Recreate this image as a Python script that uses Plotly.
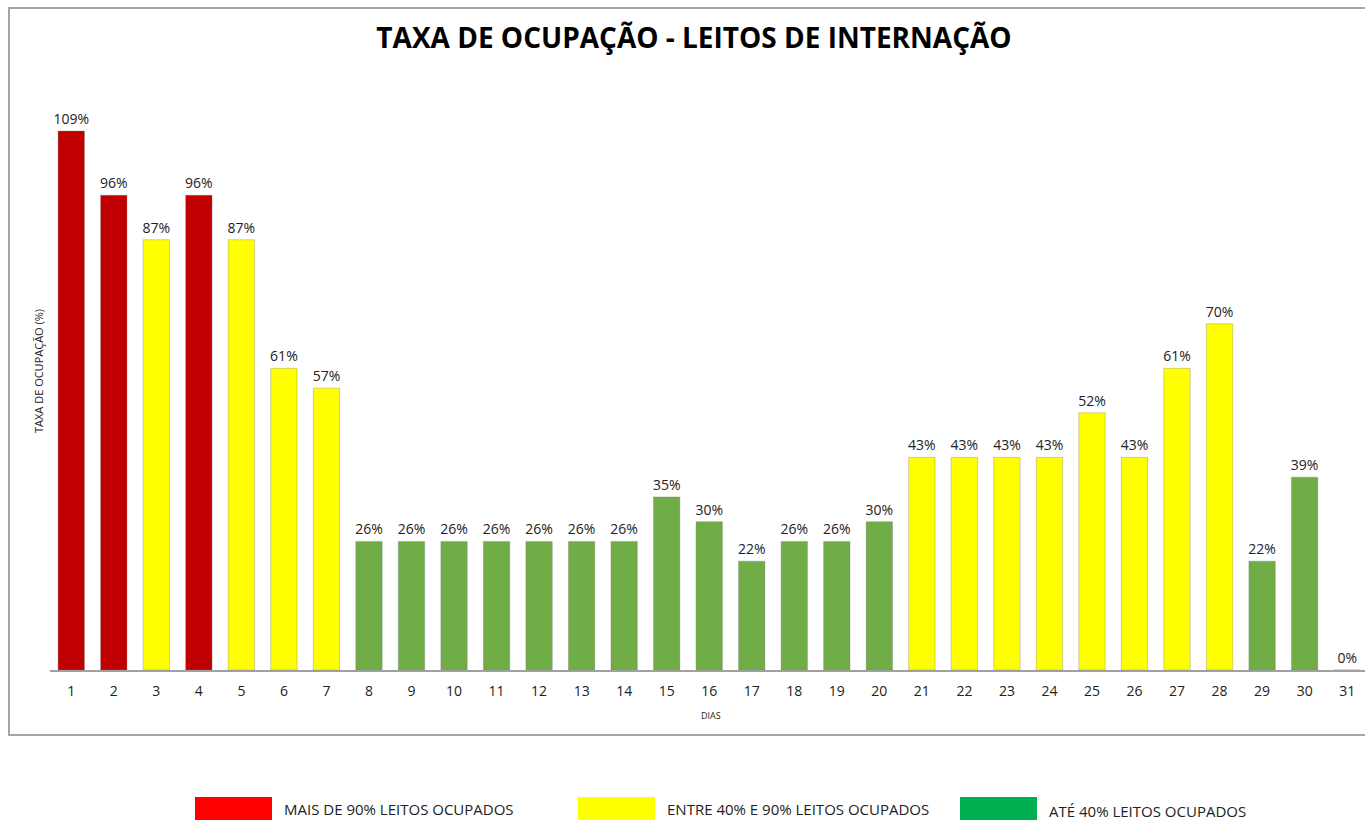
import plotly.graph_objects as go

dias = list(range(1, 32))
taxa = [109, 96, 87, 96, 87, 61, 57, 26, 26, 26, 26, 26, 26, 26, 35, 30, 22, 26, 26, 30,
        43, 43, 43, 43, 52, 43, 61, 70, 22, 39, 0]

faixas = ["MAIS DE 90% LEITOS OCUPADOS", "ENTRE 40% E 90% LEITOS OCUPADOS", "ATÉ 40% LEITOS OCUPADOS"]
cor_barra = ["#C00000", "#FFFF00", "#70AD47"]
cor_legenda = ["#FF0000", "#FFFF00", "#00B050"]


def faixa(v):
    if v > 90:
        return 0
    if v >= 40:
        return 1
    return 2


W, H = 1365, 820
L, R, T, B = 50, 0, 77, 150
pw, ph = W - L - R, H - T - B

fig = go.Figure()
fig.add_trace(go.Bar(
    x=dias,
    y=taxa,
    width=0.62,
    marker=dict(color=[cor_barra[faixa(v)] for v in taxa],
                line=dict(color="rgba(120,120,120,0.35)", width=1)),
    text=[f"{v}%" for v in taxa],
    textposition="outside",
    constraintext="none",
    textfont=dict(family="Open Sans", size=14, color="#222"),
    cliponaxis=False,
    showlegend=False,
    hovertemplate="Dia %{x}: %{y}%<extra></extra>",
))


def px_x(p):
    return (p - L) / pw


def px_y(p):
    return (H - B - p) / ph


# moldura do gráfico
fig.add_shape(type="rect", xref="paper", yref="paper",
              x0=px_x(9), x1=px_x(1375), y0=px_y(735), y1=px_y(8),
              line=dict(color="#A6A6A6", width=2), fillcolor="rgba(0,0,0,0)")

# título do eixo y
fig.add_annotation(xref="paper", yref="paper", x=px_x(38), y=px_y(371),
                   text="TAXA DE OCUPAÇÃO (%)", textangle=-90, showarrow=False,
                   xanchor="center", yanchor="middle",
                   font=dict(family="Open Sans", size=11, color="#222"))

# título do eixo x
fig.add_annotation(xref="paper", yref="paper", x=px_x(711), y=px_y(715),
                   text="DIAS", showarrow=False, xanchor="center", yanchor="middle",
                   font=dict(family="Open Sans", size=9, color="#222"))

# legenda manual
leg_x = [195, 578, 960]
for i, nome in enumerate(faixas):
    fig.add_shape(type="rect", xref="paper", yref="paper",
                  x0=px_x(leg_x[i]), x1=px_x(leg_x[i] + 77),
                  y0=px_y(825), y1=px_y(797),
                  line=dict(width=0), fillcolor=cor_legenda[i])
    fig.add_annotation(xref="paper", yref="paper", x=px_x(leg_x[i] + 87), y=px_y(809 + (2 if i == 2 else 0)),
                       text=nome, showarrow=False, xanchor="left", yanchor="middle",
                       font=dict(family="Open Sans", size=15, color="#222"))

fig.update_layout(
    width=W, height=H,
    margin=dict(l=L, r=R, t=T, b=B, autoexpand=False),
    paper_bgcolor="white", plot_bgcolor="white",
    title=dict(text="<b>TAXA DE OCUPAÇÃO - LEITOS DE INTERNAÇÃO</b>",
               x=px_x(694), xanchor="center", y=1 - 38 / H, yanchor="middle",
               xref="paper",
               font=dict(family="Open Sans", size=28, color="black")),
    xaxis=dict(range=[0.5, 0.5 + pw / 42.53], tickmode="array", tickvals=dias,
               showgrid=False, zeroline=False, showline=True, linecolor="#A0A0A0", linewidth=2,
               ticks="", ticklabelstandoff=7,
               tickfont=dict(family="Open Sans", size=14, color="#222")),
    yaxis=dict(range=[0, ph / 4.945], showgrid=False, zeroline=False, showline=False,
               showticklabels=False, ticks=""),
    bargap=0.38,
)

fig.write_html("out.html", config={"displayModeBar": False},
               post_script="document.body.style.margin='0';document.body.style.overflow='hidden';")
